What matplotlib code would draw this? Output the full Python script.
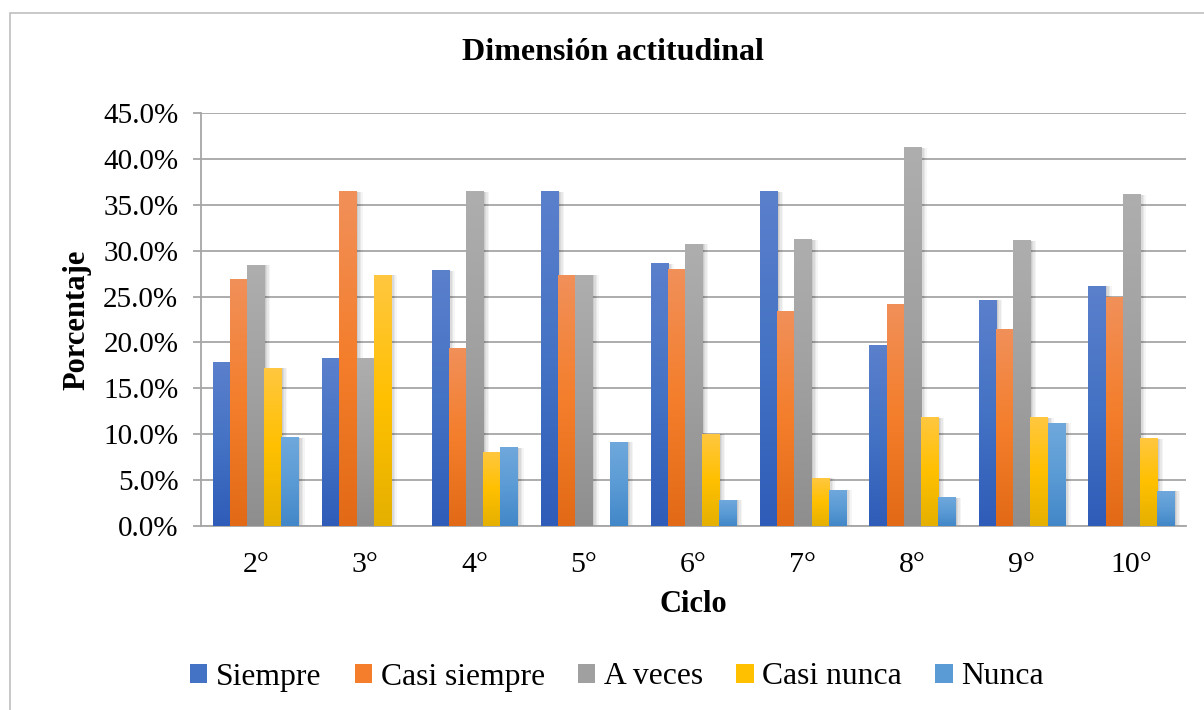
import matplotlib
matplotlib.use("Agg")
import matplotlib.pyplot as plt
import numpy as np
from matplotlib.patches import Rectangle, Patch
from matplotlib.colors import LinearSegmentedColormap
from matplotlib.ticker import FuncFormatter, MultipleLocator
import matplotlib.transforms as mtransforms

# ---- data ----
ciclos = ["2°", "3°", "4°", "5°", "6°", "7°", "8°", "9°", "10°"]
series_names = ["Siempre", "Casi siempre", "A veces", "Casi nunca", "Nunca"]
siempre = [17.8, 18.2, 27.8, 36.4, 28.6, 36.4, 19.7, 24.6, 26.1]
casi_siempre = [26.9, 36.4, 19.3, 27.3, 27.9, 23.4, 24.1, 21.4, 24.9]
a_veces = [28.4, 18.2, 36.4, 27.3, 30.7, 31.2, 41.2, 31.1, 36.1]
casi_nunca = [17.2, 27.3, 8.0, 0.0, 10.0, 5.2, 11.8, 11.8, 9.5]
nunca = [9.6, 0.0, 8.5, 9.1, 2.8, 3.9, 3.1, 11.2, 3.8]
values = [siempre, casi_siempre, a_veces, casi_nunca, nunca]

# gradient colours (top, middle, bottom)
grads = [
    ("#5B80CC", "#4472C4", "#2E5CB8"),
    ("#F1905A", "#F47E2B", "#E26A17"),
    ("#AEAEAE", "#A0A0A0", "#8E8E8E"),
    ("#FFC740", "#FFC000", "#E5B000"),
    ("#6FA8DC", "#5B9BD5", "#4287C8"),
]
mids = [g[1] for g in grads]

plt.rcParams["font.family"] = ["Liberation Serif", "DejaVu Serif"]

W, H = 1204, 710
fig = plt.figure(figsize=(W / 100, H / 100), dpi=100)
fig.patch.set_facecolor("white")

# outer chart border
fig.add_artist(Rectangle((10 / W, -0.1), 1.2, 1 - 13 / H + 0.1, transform=fig.transFigure,
                         fill=False, edgecolor="#BFBFBF", linewidth=1.2))

ax_l, ax_r, ax_t, ax_b = 201, 1186, 113, 526
ax = fig.add_axes([ax_l / W, 1 - ax_b / H, (ax_r - ax_l) / W, (ax_b - ax_t) / H])
ax.set_facecolor("none")

x = np.arange(len(ciclos))
bw = 0.157
n = len(values)
grid_c = "#A6A6A6"

for i, (vals, g) in enumerate(zip(values, grads)):
    offs = (i - (n - 1) / 2) * bw
    bars = ax.bar(x + offs, vals, width=bw, color=g[1], zorder=3, linewidth=0)
    cmap = LinearSegmentedColormap.from_list(f"g{i}", [g[2], g[1], g[0]])
    grad = np.linspace(0, 1, 256).reshape(-1, 1)
    for b in bars:
        x0, y0 = b.get_x(), b.get_y()
        w, h = b.get_width(), b.get_height()
        if h <= 0:
            continue
        # soft shadow
        for k, a in zip([6, 4.5, 3, 1.5], [0.04, 0.05, 0.06, 0.07]):
            tr = mtransforms.offset_copy(ax.transData, fig=fig, x=k * 0.72, y=0, units="points")
            ax.add_patch(Rectangle((x0, y0), w, h, transform=tr, facecolor="black",
                                   alpha=a, linewidth=0, zorder=2.5))
        ax.imshow(grad, extent=[x0, x0 + w, y0, y0 + h], origin="lower", aspect="auto",
                  cmap=cmap, zorder=3.2, interpolation="bilinear")

ax.set_xlim(-0.5, len(ciclos) - 0.5)
ax.set_ylim(0, 45)
ax.yaxis.set_major_locator(MultipleLocator(5))
ax.yaxis.set_major_formatter(FuncFormatter(lambda v, p: f"{v:.1f}%"))
ax.set_xticks(x)
ax.set_xticklabels(ciclos)
ax.grid(axis="y", color=grid_c, linewidth=1.3, zorder=1)
ax.set_axisbelow(True)
for s in ["top", "right"]:
    ax.spines[s].set_visible(False)
ax.spines["left"].set_color(grid_c)
ax.spines["left"].set_linewidth(1.3)
ax.spines["bottom"].set_color(grid_c)
ax.spines["bottom"].set_linewidth(1.3)
ax.tick_params(axis="y", length=5.8, width=1.3, color=grid_c, labelsize=21, pad=10.5)
ax.tick_params(axis="x", length=0, labelsize=21.5, pad=19)

fig.text(613 / W, 1 - 53 / H, "Dimensión actitudinal", ha="center", va="center",
         fontsize=23, fontweight="bold")
fig.text(77 / W, 1 - 320 / H, "Porcentaje", ha="center", va="center", rotation=90,
         fontsize=22, fontweight="bold")
fig.text(693 / W, 1 - 605 / H, "Ciclo", ha="center", va="center",
         fontsize=22, fontweight="bold")

handles = [Patch(facecolor=c, edgecolor="none") for c in mids]
fig.legend(handles, series_names, loc="center", bbox_to_anchor=(617 / W, 1 - 677 / H),
           ncol=5, frameon=False, fontsize=22.8, handlelength=0.55, handleheight=0.55,
           handletextpad=0.27, columnspacing=1.05, borderaxespad=0)

fig.savefig("out.png", dpi=100, facecolor="white")
